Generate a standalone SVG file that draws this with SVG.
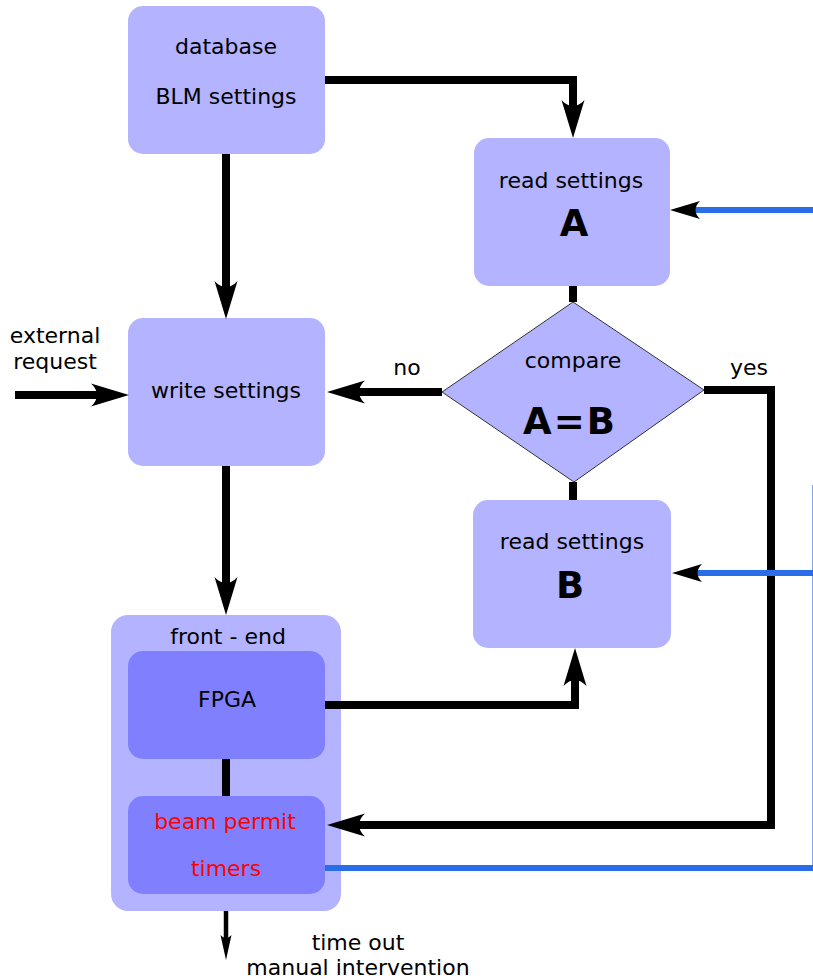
<svg xmlns="http://www.w3.org/2000/svg" width="813" height="979" viewBox="0 0 813 979">
<style>
  text { font-family: "DejaVu Sans", "Liberation Sans", sans-serif; font-size: 22px; fill: #000; text-anchor: middle; }
  .big { font-weight: bold; font-size: 37px; }
  .eq { letter-spacing: 2px; }
  .red { fill: #ff0000; }
  .box { fill: #b3b3ff; }
  .inner { fill: #8080ff; }
  .wire { fill: none; stroke: #000; stroke-width: 8; stroke-linejoin: miter; }
  .thin { fill: none; stroke: #000; stroke-width: 4.5; }
  .blue { fill: none; stroke: #2a6de9; stroke-width: 6; }
</style>
<defs>
  <marker id="arr" markerUnits="userSpaceOnUse" markerWidth="40" markerHeight="30" refX="8" refY="0" orient="auto" overflow="visible">
    <path d="M0,-11.5 L38,0 L0,11.5 C8,4 8,-4 0,-11.5 Z" fill="#000"/>
  </marker>
  <marker id="arrBlue" markerUnits="userSpaceOnUse" markerWidth="32" markerHeight="20" refX="6" refY="0" orient="auto" overflow="visible">
    <path d="M0,-9 L30,0 L0,9 C6,3 6,-3 0,-9 Z" fill="#000"/>
  </marker>
  <marker id="arrSmall" markerUnits="userSpaceOnUse" markerWidth="26" markerHeight="12" refX="4" refY="0" orient="auto" overflow="visible">
    <path d="M0,-5.5 L25,0 L0,5.5 C4,2 4,-2 0,-5.5 Z" fill="#000"/>
  </marker>
</defs>

<g id="database">
  <rect class="box" x="128" y="6" width="197" height="148" rx="15"/>
  <text x="226" y="54">database</text>
  <text x="226" y="104">BLM settings</text>
</g>

<g id="readA">
  <rect class="box" x="474" y="138" width="196" height="148" rx="15"/>
  <text x="571" y="188">read settings</text>
  <text class="big" x="574" y="236">A</text>
</g>

<g id="write">
  <rect class="box" x="128" y="318" width="197" height="148" rx="15"/>
  <text x="226" y="398">write settings</text>
</g>

<g id="compare">
  <polygon points="442,392 573,302 704,390 574,482" fill="#b3b3ff" stroke="#333" stroke-width="1"/>
  <text x="573" y="368">compare</text>
  <text class="big eq" x="570" y="434">A=B</text>
</g>

<g id="readB">
  <rect class="box" x="473" y="500" width="198" height="148" rx="15"/>
  <text x="572" y="549">read settings</text>
  <text class="big" x="570" y="598">B</text>
</g>

<g id="frontend">
  <rect class="box" x="111" y="615" width="230" height="296" rx="17"/>
  <text x="228" y="644">front - end</text>
</g>

<g id="fpga">
  <rect class="inner" x="128" y="651" width="197" height="108" rx="15"/>
  <text x="227" y="707">FPGA</text>
</g>

<g id="beampermit">
  <rect class="inner" x="128" y="796" width="197" height="98" rx="15"/>
  <text class="red" x="225" y="829">beam permit</text>
  <text class="red" x="226" y="876">timers</text>
</g>

<g id="connectors">
  <path class="wire" d="M226,154 L226,289" marker-end="url(#arr)"/>
  <path class="wire" d="M325,80 L573,80 L573,108" marker-end="url(#arr)"/>
  <path class="wire" d="M573,286 L573,302"/>
  <path class="wire" d="M573,482 L573,500"/>
  <path class="wire" d="M442,392 L357,392" marker-end="url(#arr)"/>
  <path class="wire" d="M15,395 L99,395" marker-end="url(#arr)"/>
  <path class="wire" d="M704,390 L771,390 L771,825 L357,825" marker-end="url(#arr)"/>
  <path class="wire" d="M226,466 L226,585" marker-end="url(#arr)"/>
  <path class="wire" d="M226,759 L226,796"/>
  <path class="wire" d="M325,705 L575,705 L575,678" marker-end="url(#arr)"/>
  <path class="thin" d="M226,911 L226,939" marker-end="url(#arrSmall)"/>
  <path class="blue" d="M820,210 L694,210" marker-end="url(#arrBlue)"/>
  <path class="blue" d="M820,573 L696,573" marker-end="url(#arrBlue)"/>
  <path class="blue" d="M325,868 L820,868"/>
  <path d="M812.5,485 L812.5,871" fill="none" stroke="#2a6de9" stroke-opacity="0.6" stroke-width="1"/>
</g>

<g id="labels">
  <text x="55" y="343">external</text>
  <text x="55" y="369">request</text>
  <text x="407" y="375">no</text>
  <text x="749" y="375">yes</text>
  <text x="358" y="950">time out</text>
  <text x="358" y="975">manual intervention</text>
</g>
</svg>
